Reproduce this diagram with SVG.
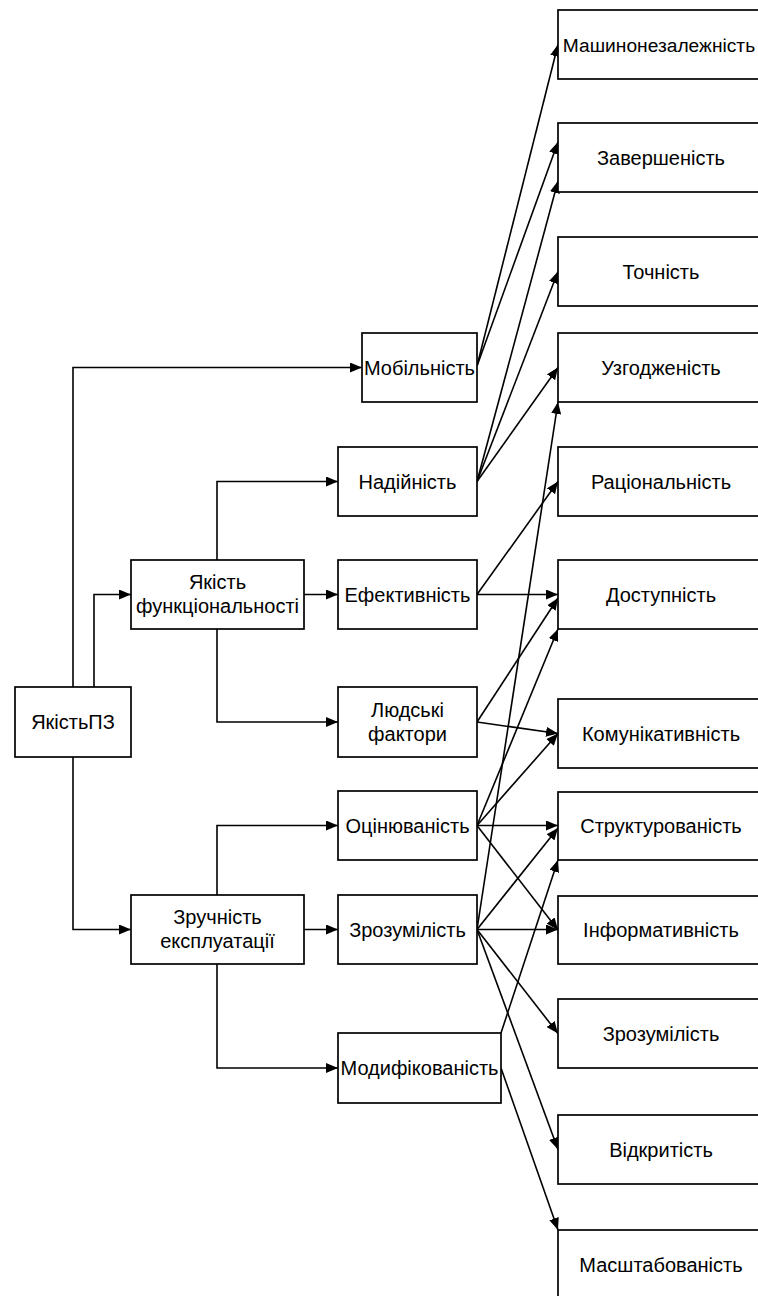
<svg xmlns="http://www.w3.org/2000/svg" width="758" height="1296" viewBox="0 0 758 1296">
<style>
  .box { fill: #ffffff; stroke: #000000; stroke-width: 1.7; }
  .lbl { font-family: "Liberation Sans", Arial, sans-serif; font-size: 20px; fill: #000000; text-anchor: middle; }
  .con { fill: none; stroke: #000000; stroke-width: 1.6; marker-end: url(#arr); }
</style>
<defs>
  <marker id="arr" markerUnits="userSpaceOnUse" markerWidth="12" markerHeight="10" refX="12" refY="5" orient="auto">
    <path d="M0,0 L12,5 L0,10 z" fill="#000000"/>
  </marker>
</defs>
<rect width="758" height="1296" fill="#ffffff"/>

<g id="connectors">
  <path class="con" d="M73,687 V367.5 H362"/>
  <path class="con" d="M94,687 V594.5 H131"/>
  <path class="con" d="M73,757 V929.5 H131"/>
  <path class="con" d="M217,560 V481.5 H338"/>
  <path class="con" d="M304,594.5 H338"/>
  <path class="con" d="M217,629 V722 H338"/>
  <path class="con" d="M217,895 V825.5 H338"/>
  <path class="con" d="M304,929.5 H338"/>
  <path class="con" d="M217,964 V1068 H338"/>
  <path class="con" d="M477,366 L558,44.5"/>
  <path class="con" d="M477,366 L558,142"/>
  <path class="con" d="M477,481.5 L558,181"/>
  <path class="con" d="M477,481.5 L558,271.5"/>
  <path class="con" d="M477,481.5 L558,367.5"/>
  <path class="con" d="M477,594.5 L558,481.5"/>
  <path class="con" d="M477,594.5 L558,594.5"/>
  <path class="con" d="M477,722 L558,598"/>
  <path class="con" d="M477,722 L558,733.5"/>
  <path class="con" d="M477,825.5 L558,629"/>
  <path class="con" d="M477,825.5 L558,733.5"/>
  <path class="con" d="M477,825.5 L558,825.5"/>
  <path class="con" d="M477,825.5 L558,930"/>
  <path class="con" d="M477,929.5 L558,402"/>
  <path class="con" d="M477,929.5 L558,828"/>
  <path class="con" d="M477,929.5 L558,929.5"/>
  <path class="con" d="M477,929.5 L558,1033.5"/>
  <path class="con" d="M477,929.5 L558,1149.5"/>
  <path class="con" d="M501,1033 L558,860"/>
  <path class="con" d="M501,1068 L558,1230"/>
</g>

<g id="n-yakist-pz"><rect class="box" x="15" y="687" width="116" height="70"/><text class="lbl" x="73" y="729">ЯкістьПЗ</text></g>
<g id="n-yakist-funk"><rect class="box" x="131" y="560" width="173" height="69"/><text class="lbl" x="217.5" y="588.5">Якість</text><text class="lbl" x="217.5" y="613">функціональності</text></g>
<g id="n-zruchnist"><rect class="box" x="131" y="895" width="173" height="69"/><text class="lbl" x="217.5" y="923.5">Зручність</text><text class="lbl" x="217.5" y="948">експлуатації</text></g>

<g id="n-mobilnist"><rect class="box" x="362" y="333" width="115" height="69"/><text class="lbl" x="419.5" y="374.5">Мобільність</text></g>
<g id="n-nadiynist"><rect class="box" x="338" y="447" width="139" height="69"/><text class="lbl" x="407.5" y="488.5">Надійність</text></g>
<g id="n-efektyvnist"><rect class="box" x="338" y="560" width="139" height="69"/><text class="lbl" x="407.5" y="601.5">Ефективність</text></g>
<g id="n-lyudski"><rect class="box" x="338" y="687" width="139" height="70"/><text class="lbl" x="407.5" y="716.5">Людські</text><text class="lbl" x="407.5" y="740.5">фактори</text></g>
<g id="n-otsinyuvanist"><rect class="box" x="338" y="791" width="139" height="69"/><text class="lbl" x="407.5" y="832.5">Оцінюваність</text></g>
<g id="n-zrozumilist-m"><rect class="box" x="338" y="895" width="139" height="69"/><text class="lbl" x="407.5" y="936.5">Зрозумілість</text></g>
<g id="n-modyfikovanist"><rect class="box" x="338" y="1033" width="163" height="70"/><text class="lbl" x="419.5" y="1075">Модифікованість</text></g>

<g id="n-mashynonezalezhnist"><rect class="box" x="558" y="10" width="206" height="69"/><text class="lbl" x="659" y="51.5" style="font-size:19.2px">Машинонезалежність</text></g>
<g id="n-zavershenist"><rect class="box" x="558" y="123" width="206" height="69"/><text class="lbl" x="661" y="164.5">Завершеність</text></g>
<g id="n-tochnist"><rect class="box" x="558" y="237" width="206" height="69"/><text class="lbl" x="661" y="278.5">Точність</text></g>
<g id="n-uzgodzhenist"><rect class="box" x="558" y="333" width="206" height="69"/><text class="lbl" x="661" y="374.5">Узгодженість</text></g>
<g id="n-ratsionalnist"><rect class="box" x="558" y="447" width="206" height="69"/><text class="lbl" x="661" y="488.5">Раціональність</text></g>
<g id="n-dostupnist"><rect class="box" x="558" y="560" width="206" height="69"/><text class="lbl" x="661" y="601.5">Доступність</text></g>
<g id="n-komunikatyvnist"><rect class="box" x="558" y="699" width="206" height="69"/><text class="lbl" x="661" y="740.5">Комунікативність</text></g>
<g id="n-strukturovanist"><rect class="box" x="558" y="792" width="206" height="68"/><text class="lbl" x="661" y="833">Структурованість</text></g>
<g id="n-informatyvnist"><rect class="box" x="558" y="896" width="206" height="68"/><text class="lbl" x="661" y="937">Інформативність</text></g>
<g id="n-zrozumilist-r"><rect class="box" x="558" y="999" width="206" height="69"/><text class="lbl" x="661" y="1040.5">Зрозумілість</text></g>
<g id="n-vidkrytist"><rect class="box" x="558" y="1115" width="206" height="69"/><text class="lbl" x="661" y="1156.5">Відкритість</text></g>
<g id="n-masshtabovanist"><rect class="box" x="558" y="1230" width="206" height="69"/><text class="lbl" x="661" y="1271.5">Масштабованість</text></g>
</svg>
